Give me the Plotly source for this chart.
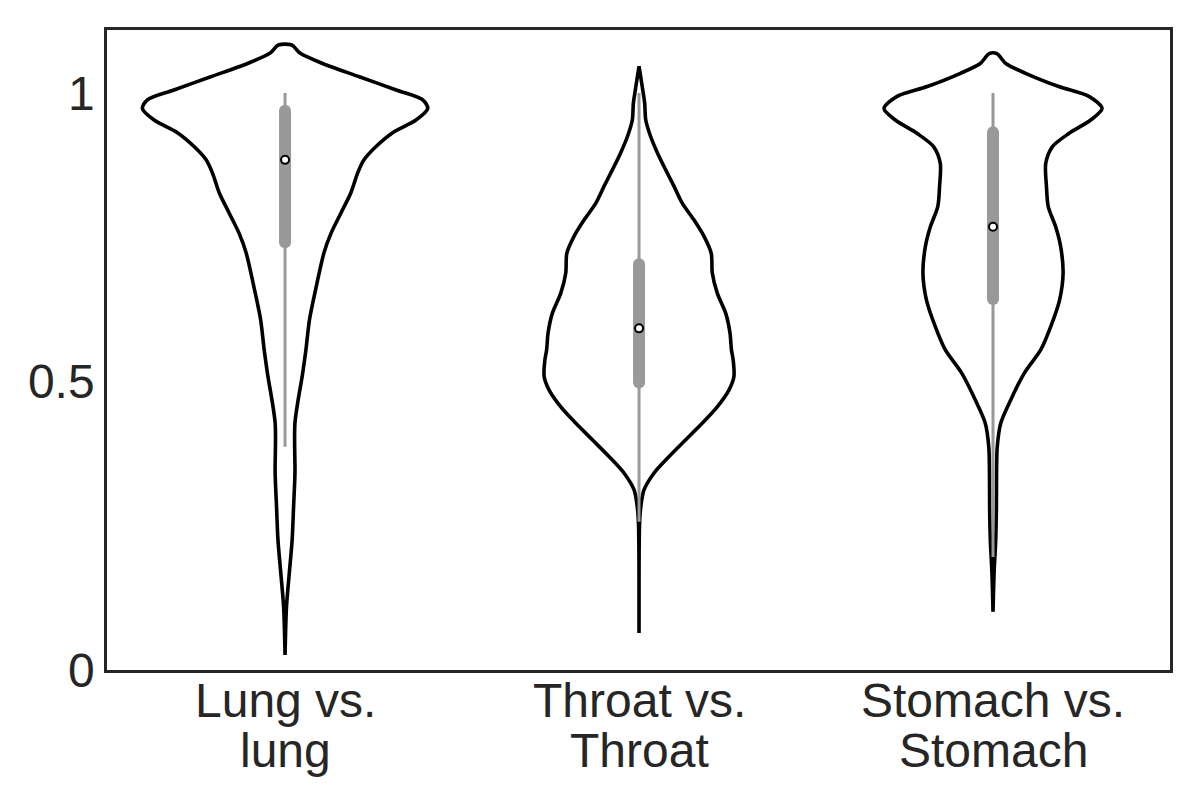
import plotly.graph_objects as go

label_line1 = ["Lung vs.", "Throat vs.", "Stomach vs."]
label_line2 = ["lung", "Throat", "Stomach"]
ytick_vals = [0, 0.5, 1]
ytick_text = ["0", "0.5", "1"]

# violin outlines: y value and half-width (category units)
lung_y = [1.083, 1.069, 1.051, 1.028, 1.005, 0.988, 0.973, 0.953, 0.931, 0.907, 0.884, 0.861,
          0.827, 0.792, 0.757, 0.723, 0.664, 0.607, 0.555, 0.515, 0.428, 0.341, 0.282, 0.225,
          0.168, 0.109, 0.026]
lung_w = [0.019, 0.042, 0.106, 0.210, 0.314, 0.389, 0.403, 0.370, 0.304, 0.257, 0.223, 0.205,
          0.186, 0.158, 0.130, 0.110, 0.088, 0.069, 0.059, 0.050, 0.028, 0.028, 0.024, 0.020,
          0.012, 0.004, 0.0]

throat_y = [1.046, 1.011, 0.982, 0.953, 0.924, 0.896, 0.867, 0.838, 0.809, 0.780, 0.751, 0.722,
            0.688, 0.653, 0.618, 0.584, 0.555, 0.537, 0.508, 0.485, 0.456, 0.428, 0.399, 0.370,
            0.341, 0.312, 0.283, 0.254, 0.064]
throat_w = [0.0, 0.009, 0.016, 0.019, 0.033, 0.052, 0.075, 0.099, 0.122, 0.155, 0.184, 0.204,
            0.207, 0.221, 0.245, 0.257, 0.261, 0.266, 0.268, 0.254, 0.221, 0.179, 0.132, 0.085,
            0.042, 0.014, 0.005, 0.0015, 0.0]

stomach_y = [1.068, 1.051, 1.034, 1.011, 0.994, 0.973, 0.953, 0.930, 0.907, 0.878, 0.838, 0.803,
             0.768, 0.734, 0.688, 0.641, 0.595, 0.555, 0.514, 0.468, 0.428, 0.387, 0.341, 0.283,
             0.225, 0.168, 0.101]
stomach_w = [0.011, 0.036, 0.092, 0.186, 0.271, 0.308, 0.276, 0.215, 0.168, 0.149, 0.151, 0.156,
             0.177, 0.191, 0.198, 0.188, 0.163, 0.135, 0.088, 0.050, 0.022, 0.012, 0.010, 0.0096,
             0.0076, 0.003, 0.0]

# box statistics
whisk_lo = [0.387, 0.257, 0.196]
q1 = [0.741, 0.498, 0.643]
median = [0.884, 0.592, 0.768]
q3 = [0.969, 0.703, 0.932]
whisk_hi = [1.0, 1.0, 1.0]

violins = [(lung_y, lung_w), (throat_y, throat_w), (stomach_y, stomach_w)]

fig = go.Figure()
for i, (ys, ws) in enumerate(violins):
    xs = [i - w for w in ws] + [i + w for w in reversed(ws)] + [i - ws[0]]
    yy = list(ys) + list(reversed(ys)) + [ys[0]]
    fig.add_trace(go.Scatter(x=xs, y=yy, mode="lines",
                             line=dict(color="black", width=3.6, shape="spline", smoothing=0.8),
                             hoverinfo="skip", showlegend=False))

for i in range(3):
    fig.add_trace(go.Scatter(x=[i, i], y=[whisk_lo[i], whisk_hi[i]], mode="lines",
                             line=dict(color="#999999", width=3), showlegend=False, hoverinfo="skip"))
    fig.add_trace(go.Scatter(x=[i, i], y=[q1[i], q3[i]], mode="lines+markers",
                             line=dict(color="#999999", width=12),
                             marker=dict(color="#999999", size=12, line=dict(width=0)),
                             showlegend=False, hoverinfo="skip"))

fig.add_trace(go.Scatter(x=[0, 1, 2], y=median, mode="markers",
                         marker=dict(color="white", size=8, line=dict(color="black", width=2)),
                         showlegend=False, hoverinfo="skip"))

annotations = []
for i in range(3):
    annotations.append(dict(x=i, y=0, xref="x", yref="y", text=label_line1[i], showarrow=False,
                            xanchor="center", yanchor="middle", yshift=-30))
    annotations.append(dict(x=i, y=0, xref="x", yref="y", text=label_line2[i], showarrow=False,
                            xanchor="center", yanchor="middle", yshift=-80))

fig.update_layout(
    width=1200, height=800,
    margin=dict(l=99, r=38, t=22, b=138),
    paper_bgcolor="white", plot_bgcolor="white",
    font=dict(family="Liberation Sans, Arial, sans-serif", size=48, color="#262626"),
    annotations=annotations,
    xaxis=dict(range=[-0.503, 2.5], tickmode="array", tickvals=[0, 1, 2], showticklabels=False,
               showgrid=False, zeroline=False, showline=True, mirror=True, linecolor="#262626",
               linewidth=2.5, ticks=""),
    yaxis=dict(range=[0, 1.109], tickmode="array", tickvals=ytick_vals, ticktext=ytick_text,
               showgrid=False, zeroline=False, showline=True, mirror=True, linecolor="#262626",
               linewidth=2.5, ticks="", ticklabelstandoff=0),
)

fig.write_html("out.html")
